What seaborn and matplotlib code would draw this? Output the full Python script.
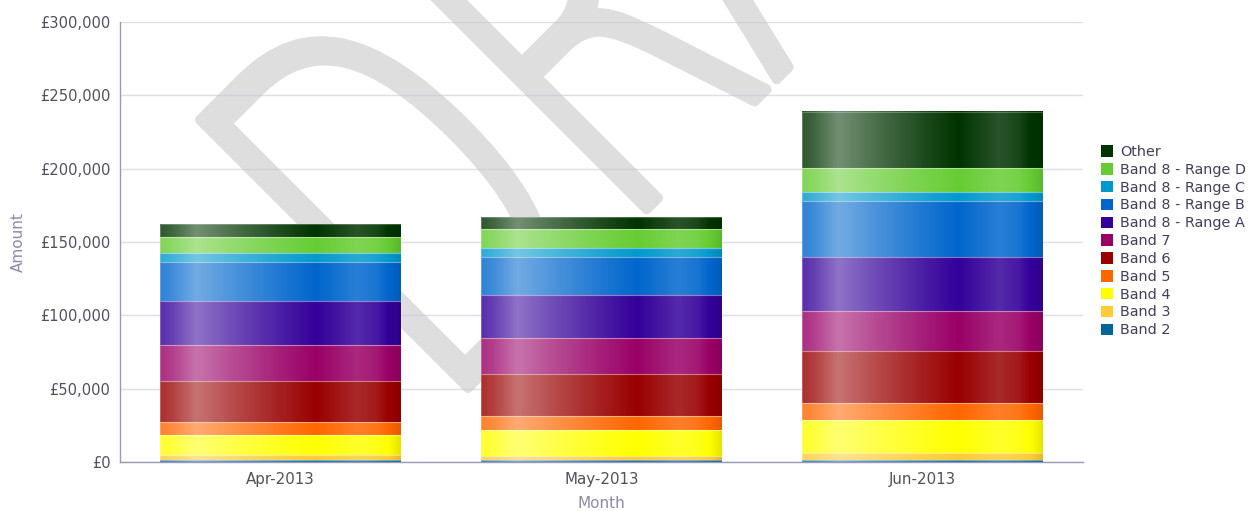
import numpy as np
import pandas as pd
import matplotlib
matplotlib.use("Agg")
import matplotlib.pyplot as plt
from matplotlib.patches import Patch, Rectangle, PathPatch
from matplotlib.colors import to_rgb
from matplotlib import font_manager as fm
from matplotlib.font_manager import FontProperties
from matplotlib.textpath import TextPath
from matplotlib.transforms import Affine2D, IdentityTransform
import seaborn as sns

# ---- data -------------------------------------------------------------
months = ["Apr-2013", "May-2013", "Jun-2013"]

# stacking order, top of the bar first
bands = ["Other", "Band 8 - Range D", "Band 8 - Range C", "Band 8 - Range B",
         "Band 8 - Range A", "Band 7", "Band 6", "Band 5", "Band 4",
         "Band 3", "Band 2"]

other  = [8450, 7980, 38190]
b8d    = [11320, 12750, 16770]
b8c    = [5720, 6130, 5730]
b8b    = [26600, 26320, 38590]
b8a    = [30200, 29120, 36400]
band7  = [24540, 24540, 27280]
band6  = [27750, 28640, 35860]
band5  = [9070, 9540, 11380]
band4  = [13640, 17730, 22710]
band3  = [3610, 2930, 4770]
band2  = [1160, 1160, 1160]

colors = ["#003300", "#66cc33", "#0099cc", "#0066cc", "#330099", "#990066",
          "#990000", "#ff6600", "#ffff00", "#ffcc33", "#006699"]

y_ticks = [0, 50000, 100000, 150000, 200000, 250000, 300000]

series = [other, b8d, b8c, b8b, b8a, band7, band6, band5, band4, band3, band2]
df = pd.DataFrame(
    [(i, b, v) for b, vals in zip(bands, series) for i, v in enumerate(vals)],
    columns=["pos", "band", "amount"],
)

# ---- figure -----------------------------------------------------------
sns.set_theme(style="white")
plt.rcParams["font.family"] = ["DejaVu Sans"]

W, H = 1249, 511
fig = plt.figure(figsize=(W / 100, H / 100), dpi=100)
ax = fig.add_axes([120 / W, (H - 462) / H, (1083 - 120) / W, (462 - 22) / H])

# ---- "DRAFT" watermark, condensed, rotated 45 degrees, behind the bars --
def has_extra_light():
    return any(f.name == "DejaVu Sans" and f.weight in (200, "extra-light", "ultralight")
               for f in fm.fontManager.ttflist)

light = has_extra_light()
wm_prop = FontProperties(family="DejaVu Sans", weight=200 if light else "normal")
cap_px = 389          # outer letter height in pixels
lw_px = 10 if light else 3
squeeze = 0.63        # horizontal condensing of the letters
wm_corner = (468, H - 395)   # outer baseline-left corner of the "D", pixels

d_ref = TextPath((0, 0), "D", size=100, prop=wm_prop).get_extents()
k = (cap_px - lw_px) / d_ref.height
wm_path = TextPath((0, 0), "DRAFT", size=100, prop=wm_prop)
off = lw_px / 2 * np.sqrt(2)
wm_tf = (Affine2D().translate(-d_ref.x0, 0).scale(k * squeeze, k)
         .rotate_deg(45).translate(wm_corner[0], wm_corner[1] + off))
wm = PathPatch(wm_tf.transform_path(wm_path), transform=IdentityTransform(),
               facecolor="#dedede", edgecolor="#dedede",
               linewidth=lw_px * 0.72, joinstyle="round", zorder=0.2,
               clip_on=False)
ax.add_artist(wm)

sns.histplot(df, x="pos", weights="amount", hue="band", hue_order=bands,
             multiple="stack", discrete=True, shrink=0.75,
             palette=dict(zip(bands, colors)), alpha=1, linewidth=0,
             legend=False, ax=ax, zorder=2)

# glossy horizontal shading on each bar segment
t_pts = [0.0, 0.05, 0.15, 0.30, 0.50, 0.65, 0.82, 0.90, 1.0]
w_pts = [0.18, 0.25, 0.45, 0.30, 0.12, 0.0, 0.16, 0.10, -0.10]
t = np.linspace(0, 1, 240)
shade = np.interp(t, t_pts, w_pts)

for p in list(ax.patches):
    if not isinstance(p, Rectangle):
        continue
    x0, y0 = p.get_x(), p.get_y()
    w, h = p.get_width(), p.get_height()
    if h <= 0:
        continue
    base = np.array(to_rgb(p.get_facecolor()))
    img = np.empty((1, t.size, 3))
    for j, s in enumerate(shade):
        img[0, j] = base + (1 - base) * s if s >= 0 else base * (1 + s)
    ax.imshow(img, extent=[x0, x0 + w, y0, y0 + h], aspect="auto",
              interpolation="bilinear", zorder=2.1)
    ax.add_patch(Rectangle((x0, y0), w, h, fill=False,
                           edgecolor=(1, 1, 1, 0.25), linewidth=0.8, zorder=2.2))

# ---- axes styling -----------------------------------------------------
ax.set_xlim(-0.5, 2.5)
ax.set_ylim(0, 300000)
ax.set_xticks(range(len(months)))
ax.set_xticklabels(months)
ax.set_yticks(y_ticks)
ax.set_yticklabels([f"£{v:,}" for v in y_ticks])
ax.set_axisbelow(True)
ax.yaxis.grid(True, color="#c8c8d8", alpha=0.6, linewidth=1, zorder=0.5)
ax.xaxis.grid(False)

for side in ("top", "right"):
    ax.spines[side].set_visible(False)
for side in ("left", "bottom"):
    ax.spines[side].set_color("#9898b8")
    ax.spines[side].set_linewidth(1)
    ax.spines[side].set_zorder(3)

ax.tick_params(axis="both", length=0, colors="#50505e")
ax.tick_params(axis="y", labelsize=10.6, pad=7)
ax.tick_params(axis="x", labelsize=10.8, pad=7)

ax.set_xlabel("Month", fontsize=11, color="#8a8aa8", labelpad=7)
ax.set_ylabel("Amount", fontsize=11, color="#8a8aa8", labelpad=10)

handles = [Patch(facecolor=c, edgecolor="none", label=b) for b, c in zip(bands, colors)]
fig.legend(handles=handles, loc="upper left",
           bbox_to_anchor=(1101 / W, 1 - 145 / H),
           frameon=False, fontsize=10.4, handlelength=0.85, handleheight=0.85,
           handletextpad=0.5, labelspacing=0.265, borderpad=0, borderaxespad=0,
           labelcolor="#40405a")

fig.savefig("out.png", dpi=100)
